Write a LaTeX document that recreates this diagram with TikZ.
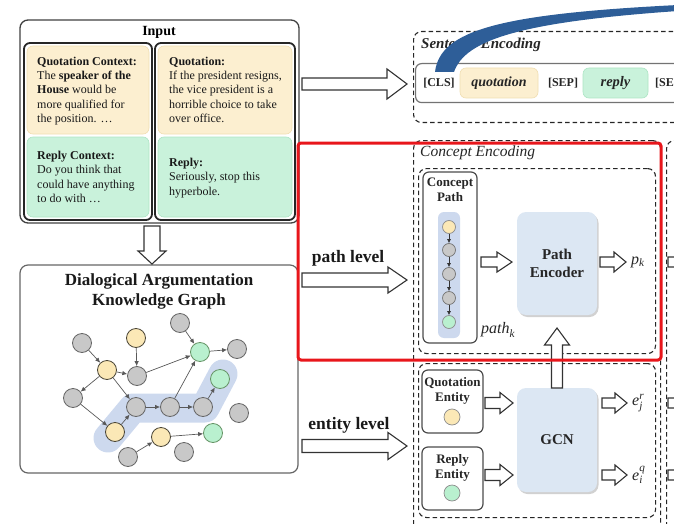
\documentclass[tikz,border=0pt]{standalone}
\usepackage{fontspec}
\setmainfont{Liberation Serif}
\usetikzlibrary{arrows.meta,calc,shadows}

\definecolor{quoteFill}{HTML}{FCEFD0}
\definecolor{quoteEdge}{HTML}{F0DEB2}
\definecolor{replyFill}{HTML}{C9F2DB}
\definecolor{replyEdge}{HTML}{ADE5C4}
\definecolor{encFill}{HTML}{DCE7F3}
\definecolor{bandBlue}{HTML}{CDD9EE}
\definecolor{nodeGray}{HTML}{C8C8C8}
\definecolor{nodeYellow}{HTML}{FBE8B6}
\definecolor{nodeGreen}{HTML}{B9F0CF}
\definecolor{linkBlue}{HTML}{2E5E98}
\definecolor{alertRed}{HTML}{E8161B}

\newcommand\fsz[2]{\fontsize{#1}{#2}\selectfont}

% hollow block arrow between two named points:
% #1 from, #2 to, #3 half shaft width, #4 half head width, #5 head length
\newcommand\hollowarrow[5]{%
  \draw[blockarrow] let \p1=(#1), \p2=(#2),
      \n1={atan2(\y2-\y1,\x2-\x1)}, \n2={veclen(\x2-\x1,\y2-\y1)} in
    [shift={(\p1)}, rotate=\n1]
    (0pt,#3) -- (\n2-#5,#3) -- (\n2-#5,#4) -- (\n2,0pt)
    -- (\n2-#5,-#4) -- (\n2-#5,-#3) -- (0pt,-#3) -- cycle;}

\begin{document}
\begin{tikzpicture}[x=1pt,y=-1pt,
  dims/.style 2 args={minimum width=#1,minimum height=#2,inner sep=0pt},
  outerpanel/.style={draw=black!75,line width=1.3pt,rounded corners=8pt},
  innerpanel/.style={draw=black!85,line width=1.8pt,rounded corners=6pt},
  quotebg/.style={fill=quoteFill,draw=quoteEdge,line width=0.6pt,rounded corners=6pt},
  replybg/.style={fill=replyFill,draw=replyEdge,line width=0.6pt,rounded corners=6pt},
  para/.style={align=left,inner sep=0pt,anchor=north west,font=\fsz{12}{14.4},text=black!90},
  dashbox/.style={draw=black!85,line width=1.1pt,dash pattern=on 4.5pt off 3pt,rounded corners=8pt},
  solidbox/.style={draw=black!70,line width=1.2pt,rounded corners=6pt,fill=white},
  encoder/.style={fill=encFill,rounded corners=9pt,
    drop shadow={shadow xshift=1.5pt,shadow yshift=-2pt,fill=black!40,opacity=0.45},
    font=\fsz{15}{18}\bfseries,align=center,text=black!85},
  gnode/.style={circle,minimum size=19pt,inner sep=0pt,line width=0.8pt},
  gray node/.style={gnode,fill=nodeGray,draw=black!60},
  yellow node/.style={gnode,fill=nodeYellow,draw=black!50!nodeYellow!60!black},
  green node/.style={gnode,fill=nodeGreen,draw=green!30!black!60},
  gedge/.style={draw=black!65,line width=0.7pt,-{Latex[length=5pt,width=4.5pt]}},
  pnode/.style={circle,minimum size=13pt,inner sep=0pt,line width=0.7pt},
  pedge/.style={draw=black!80,line width=0.6pt,-{Latex[length=4pt,width=4pt]}},
  blockarrow/.style={draw=black!80,line width=1.1pt,fill=white,line join=miter},
  token/.style={font=\fsz{12}{14}\bfseries,text=black!85,inner sep=0pt},
  lvl/.style={font=\fsz{17.5}{20}\bfseries,text=black!90},
  mathlbl/.style={font=\fsz{16}{18},anchor=west,inner sep=0pt,text=black!85}]

\path[use as bounding box] (0,0) rectangle (674,524);
\clip (0,0) rectangle (674,524);

% ---------------- Input ----------------
\node[outerpanel,dims={279}{203}] (inputbox) at (159.5,121.5) {};
\node[font=\fsz{14}{16}\bfseries] (inputttl) at (159,32) {Input};
\node[innerpanel,dims={128}{177}] (lpanel) at (88,131.5) {};
\node[innerpanel,dims={140}{177}] (rpanel) at (225,131.5) {};
\node[quotebg,dims={122}{88}] (qctxbg) at (88,90) {};
\node[replybg,dims={122}{80}] (rctxbg) at (88,177) {};
\node[quotebg,dims={134}{88}] (quotbg) at (225,90) {};
\node[replybg,dims={134}{80}] (replybg) at (225,177) {};

\node[para] (qctxtxt) at (37,56.5) {\textbf{Quotation Context:}\\The \textbf{speaker of the}\\\textbf{House} would be\\more qualified for\\the position. …};
\node[para] (rctxtxt) at (37,151) {\textbf{Reply Context:}\\Do you think that\\could have anything\\to do with …};
\node[para] (quottxt) at (169,56.5) {\textbf{Quotation:}\\If the president resigns,\\the vice president is a\\horrible choice to take\\over office.};
\node[para] (replytxt) at (169,158) {\textbf{Reply:}\\Seriously, stop this\\hyperbole.};

% ---------------- Knowledge graph ----------------
\node[outerpanel,draw=black!60,line width=1.2pt,dims={278}{208}] (dakg) at (159,369) {};
\node[font=\fsz{17}{20}\bfseries,align=center,text=black!90] (dakgttl) at (159,291)
  {Dialogical Argumentation\\Knowledge Graph};

\draw[bandBlue,line width=29pt,line cap=round,line join=round]
  (108,438) -- (133,408) -- (205,408) -- (223,374);

\node[gray node]   (gA) at (82,343) {};
\node[yellow node] (gB) at (136,338) {};
\node[gray node]   (gC) at (180,323) {};
\node[green node]  (gD) at (200,352) {};
\node[gray node]   (gE) at (237,349) {};
\node[yellow node] (gF) at (107,370) {};
\node[gray node]   (gG) at (137,376) {};
\node[green node]  (gH) at (220,379) {};
\node[gray node]   (gI) at (73,398) {};
\node[gray node]   (gJ) at (136,407) {};
\node[gray node]   (gK) at (170,407) {};
\node[gray node]   (gL) at (203,407) {};
\node[gray node]   (gM) at (239,413) {};
\node[yellow node] (gN) at (115,432) {};
\node[yellow node] (gO) at (161,437) {};
\node[green node]  (gP) at (213,433) {};
\node[gray node]   (gQ) at (128,457) {};
\node[gray node]   (gR) at (184,452) {};

\draw[gedge] (gA) -- (gF);
\draw[gedge] (gB) -- (gG);
\draw[gedge] (gC) -- (gD);
\draw[gedge] (gD) -- (gE);
\draw[gedge] (gF) -- (gG);
\draw[gedge] (gG) -- (gD);
\draw[gedge] (gF) -- (gI);
\draw[gedge] (gF) -- (gJ);
\draw[gedge] (gI) -- (gN);
\draw[gedge] (gN) -- (gJ);
\draw[gedge] (gJ) -- (gK);
\draw[gedge] (gK) -- (gL);
\draw[gedge] (gK) -- (gD);
\draw[gedge] (gL) -- (gH);
\draw[gedge] (gQ) -- (gO);
\draw[gedge] (gO) -- (gP);

% ---------------- Sentence encoding ----------------
\node[dashbox,dims={290}{91},anchor=north west] (sentbox) at (413,31) {};
\node[font=\fsz{15}{18}\bfseries\itshape,anchor=west,inner sep=0pt,text=black!85] (sentlbl) at (421,45) {Sentence Encoding};
\node[solidbox,draw=black!55,dims={290}{39},anchor=north west] (tokrow) at (415,63) {};
\node[token] (cls) at (439,83) {[CLS]};
\node[quotebg,dims={78}{30},font=\fsz{14}{16}\bfseries\itshape,text=black!85] (quottok) at (499,83) {quotation};
\node[token] (sep1) at (563,83) {[SEP]};
\node[replybg,dims={65}{30},font=\fsz{14.5}{16}\bfseries\itshape,text=black!85] (reptok) at (615.5,83) {reply};
\node[token,anchor=west] (sep2) at (655,83) {[SEP]};

% attention link leaving the [CLS] token
\fill[linkBlue] (435,72) .. controls (440,30) and (500,14) .. (678,5)
  -- (678,11) .. controls (520,22) and (465,40) .. (454,72) -- cycle;

% ---------------- Concept encoding ----------------
\node[dashbox,dims={247}{392},anchor=north west] (concbox) at (413,140) {};
\node[font=\fsz{15.5}{18}\itshape,anchor=west,inner sep=0pt,text=black!85] (conclbl) at (420,153) {Concept Encoding};
\node[dashbox,dims={237}{185},anchor=north west] (pathgrp) at (418,168) {};
\node[dashbox,dims={237}{154},anchor=north west] (entgrp) at (418,363) {};
\node[dashbox,dims={80}{400},anchor=north west] (nextcol) at (666,140) {};

% concept path
\node[solidbox,dims={54}{171}] (cpbox) at (450,257.5) {};
\node[font=\fsz{13}{15}\bfseries,align=center,text=black!85] (cptitle) at (450,190) {Concept\\Path};
\node[fill=bandBlue,rounded corners=6pt,dims={22}{126}] (cpband) at (449,275) {};
\node[pnode,fill=nodeYellow,draw=black!45] (c1) at (449,227) {};
\node[pnode,fill=nodeGray,draw=black!55] (c2) at (449,250) {};
\node[pnode,fill=nodeGray,draw=black!55] (c3) at (449,274) {};
\node[pnode,fill=nodeGray,draw=black!55] (c4) at (449,298) {};
\node[pnode,fill=nodeGreen,draw=black!45] (c5) at (449,322) {};
\draw[pedge] (c1) -- (c2);
\draw[pedge] (c2) -- (c3);
\draw[pedge] (c3) -- (c4);
\draw[pedge] (c4) -- (c5);
\node[mathlbl] (pathk) at (481,330) {$\mathit{path}_{\mathit{k}}$};

\node[encoder,dims={80}{103}] (penc) at (557,263.5) {Path\\Encoder};
\node[mathlbl] (pk) at (631,262) {$\mathit{p}_{\mathit{k}}$};

% entities
\node[solidbox,dims={61}{63}] (qent) at (452.5,401.5) {};
\node[font=\fsz{13}{14.5}\bfseries,align=center,text=black!85] (qentlbl) at (452.5,391) {Quotation\\Entity};
\node[pnode,minimum size=16pt,fill=nodeYellow,draw=black!45] (qdot) at (452,417) {};
\node[solidbox,dims={61}{63}] (rent) at (452.5,478.5) {};
\node[font=\fsz{13}{14.5}\bfseries,align=center,text=black!85] (rentlbl) at (452.5,468) {Reply\\Entity};
\node[pnode,minimum size=16pt,fill=nodeGreen,draw=black!45] (rdot) at (452,493) {};

\node[encoder,dims={80}{104}] (gcn) at (557,440) {GCN};
\node[mathlbl] (ejr) at (632,403) {$\mathit{e}_{\mathit{j}}^{\mathit{r}}$};
\node[mathlbl] (eiq) at (632,475) {$\mathit{e}_{\mathit{i}}^{\mathit{q}}$};

% ---------------- block arrows ----------------
\coordinate (dS) at (152,226);   \coordinate (dE) at (152,264);
\coordinate (sS) at (302,84);    \coordinate (sE) at (407,84);
\coordinate (pS) at (302,280);   \coordinate (pE) at (407,280);
\coordinate (eS) at (302,446);   \coordinate (eE) at (407,446);
\coordinate (cpS) at (481,262);  \coordinate (cpE) at (512,262);
\coordinate (pkS) at (600,262);  \coordinate (pkE) at (626,262);
\coordinate (upS) at (557,388);  \coordinate (upE) at (557,328);
\coordinate (qS) at (485,403);   \coordinate (qE) at (513,403);
\coordinate (rS) at (485,475);   \coordinate (rE) at (513,475);
\coordinate (jS) at (602,403);   \coordinate (jE) at (627,403);
\coordinate (iS) at (602,475);   \coordinate (iE) at (627,475);
\coordinate (x1S) at (668,262);  \coordinate (x1E) at (694,262);
\coordinate (x2S) at (668,403);  \coordinate (x2E) at (694,403);
\coordinate (x3S) at (668,475);  \coordinate (x3E) at (694,475);

\hollowarrow{dS}{dE}{8pt}{14pt}{13pt}
\hollowarrow{sS}{sE}{6pt}{15pt}{20pt}
\hollowarrow{pS}{pE}{7pt}{13pt}{19pt}
\hollowarrow{eS}{eE}{6.5pt}{13.5pt}{19pt}
\hollowarrow{cpS}{cpE}{5pt}{10pt}{15pt}
\hollowarrow{pkS}{pkE}{5pt}{10pt}{12pt}
\hollowarrow{upS}{upE}{5.5pt}{12.5pt}{17pt}
\hollowarrow{qS}{qE}{5.5pt}{10.5pt}{13pt}
\hollowarrow{rS}{rE}{5.5pt}{10.5pt}{13pt}
\hollowarrow{jS}{jE}{5pt}{10pt}{12pt}
\hollowarrow{iS}{iE}{5pt}{10pt}{12pt}
\hollowarrow{x1S}{x1E}{5pt}{10pt}{12pt}
\hollowarrow{x2S}{x2E}{5pt}{10pt}{12pt}
\hollowarrow{x3S}{x3E}{5pt}{10pt}{12pt}

\node[lvl] (plvl) at (348,258) {path level};
\node[lvl] (elvl) at (349,425) {entity level};

% highlighted path-level block
\node[draw=alertRed,line width=3pt,rounded corners=3pt,dims={363}{217}] (focus) at (479.5,251.5) {};

\end{tikzpicture}
\end{document}
